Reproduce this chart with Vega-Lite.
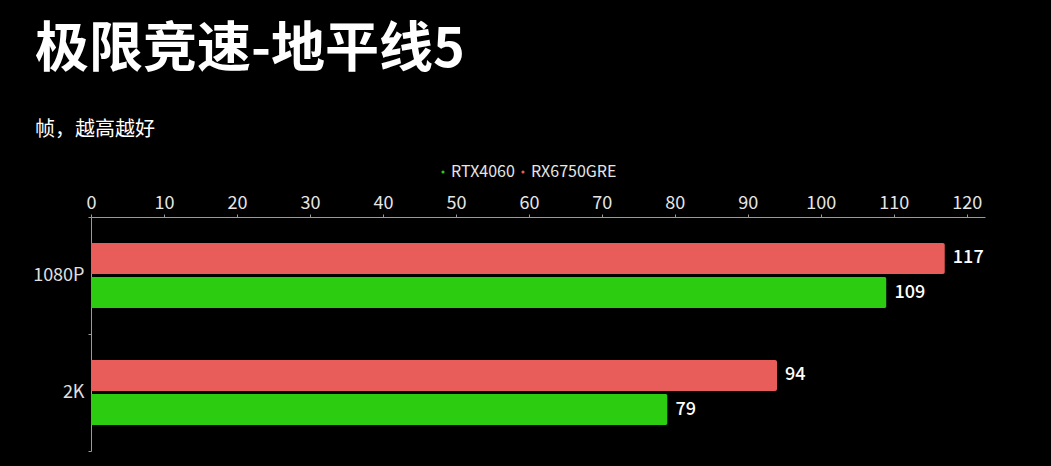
{
  "$schema": "https://vega.github.io/schema/vega-lite/v6.json",
  "width": 894,
  "height": 234,
  "autosize": {"type": "none"},
  "padding": {"left": 91, "top": 217, "right": 66, "bottom": 15},
  "background": "#000000",
  "title": {
    "text": "极限竞速-地平线5",
    "subtitle": "帧，越高越好",
    "anchor": "start",
    "frame": "group",
    "dx": -56,
    "dy": 36,
    "font": "Noto Sans CJK SC",
    "fontSize": 54,
    "fontWeight": "bold",
    "color": "#ffffff",
    "subtitleFont": "Noto Sans CJK SC",
    "subtitleFontSize": 20,
    "subtitleColor": "#ffffff",
    "subtitlePadding": 42,
    "offset": 60
  },
  "data": {
    "values": [
      {"res": "1080P", "gpu": "RX6750GRE", "fps": 117},
      {"res": "1080P", "gpu": "RTX4060", "fps": 109},
      {"res": "2K", "gpu": "RX6750GRE", "fps": 94},
      {"res": "2K", "gpu": "RTX4060", "fps": 79}
    ]
  },
  "encoding": {
    "y": {
      "field": "res",
      "type": "nominal",
      "sort": ["1080P", "2K"],
      "scale": {"paddingInner": 0, "paddingOuter": 0},
      "axis": {
        "title": null,
        "tickBand": "extent",
        "tickSize": 3,
        "labelFontSize": 18,
        "labelColor": "#e0e0e0",
        "labelFont": "Noto Sans CJK SC",
        "labelPadding": 4,
        "domainColor": "#9a9a9a",
        "tickColor": "#9a9a9a"
      }
    },
    "yOffset": {
      "field": "gpu",
      "type": "nominal",
      "sort": ["RX6750GRE", "RTX4060"],
      "scale": {"paddingInner": 0.09, "paddingOuter": 0.765}
    },
    "x": {
      "field": "fps",
      "type": "quantitative",
      "scale": {"domain": [0, 122.5], "nice": false},
      "axis": {
        "orient": "top",
        "title": null,
        "values": [0, 10, 20, 30, 40, 50, 60, 70, 80, 90, 100, 110, 120],
        "grid": false,
        "tickSize": 3,
        "labelFlush": false,
        "labelFontSize": 18,
        "labelFont": "Noto Sans CJK SC",
        "labelColor": "#e6e6e6",
        "labelPadding": 2,
        "domainColor": "#9a9a9a",
        "tickColor": "#9a9a9a"
      }
    }
  },
  "layer": [
    {
      "mark": {"type": "bar", "cornerRadiusEnd": 2},
      "encoding": {
        "color": {
          "field": "gpu",
          "type": "nominal",
          "scale": {"domain": ["RTX4060", "RX6750GRE"], "range": ["#2ccc10", "#e85d59"]},
          "legend": {
            "orient": "none",
            "legendX": 344,
            "legendY": -53,
            "direction": "horizontal",
            "title": null,
            "symbolType": "circle",
            "symbolSize": 10,
            "labelFontSize": 16,
            "labelFont": "Noto Sans CJK SC",
            "labelColor": "#e6e6e6",
            "labelOffset": 0,
            "columnPadding": 0
          }
        }
      }
    },
    {
      "mark": {"type": "text", "align": "left", "dx": 8, "fontSize": 18, "font": "Noto Sans CJK SC", "color": "#ffffff", "fontWeight": 500},
      "encoding": {"text": {"field": "fps", "type": "quantitative"}}
    }
  ],
  "config": {"view": {"stroke": null}}
}
